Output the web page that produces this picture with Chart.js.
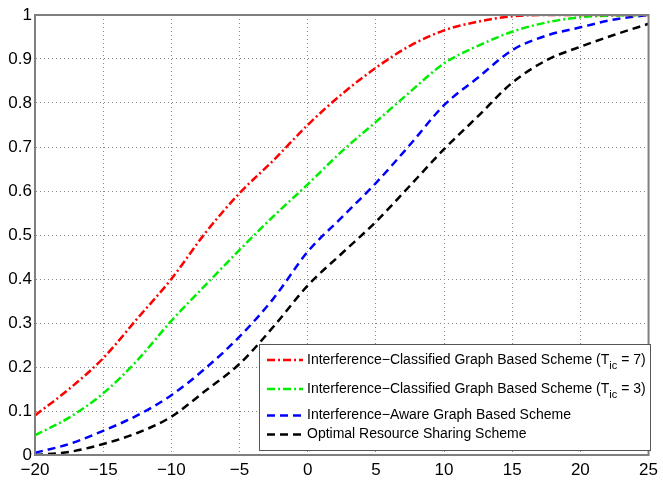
<!DOCTYPE html>
<html>
<head>
<meta charset="utf-8">
<script src="https://cdn.jsdelivr.net/npm/chart.js@4/dist/chart.umd.min.js"></script>
<style>
html,body{margin:0;padding:0;background:#fff;}
canvas{display:block;}
</style>
</head>
<body>
<canvas id="c" width="663" height="480"></canvas>
<script>
// ---- data ----
const snr = [-20,-17.5,-15,-12.5,-10,-7.5,-5,-2.5,0,2.5,5,7.5,10,12.5,15,17.5,20,22.5,25];
const icT7   = [0.09,0.15,0.22,0.31,0.40,0.505,0.595,0.67,0.75,0.82,0.88,0.93,0.965,0.985,0.997,1,1,1,1];
const icT3   = [0.045,0.085,0.14,0.215,0.305,0.386,0.466,0.543,0.615,0.69,0.757,0.825,0.89,0.93,0.962,0.983,0.995,0.999,1];
const iaGraph= [0.005,0.025,0.055,0.09,0.136,0.197,0.269,0.356,0.462,0.54,0.618,0.705,0.795,0.858,0.92,0.953,0.972,0.99,1];
const optimal= [0.0,0.007,0.025,0.05,0.087,0.146,0.207,0.292,0.385,0.458,0.53,0.612,0.695,0.77,0.846,0.897,0.928,0.955,0.98];
const seriesNames = [
  'Interference\u2212Classified Graph Based Scheme (T_{ic} = 7)',
  'Interference\u2212Classified Graph Based Scheme (T_{ic} = 3)',
  'Interference\u2212Aware Graph Based Scheme',
  'Optimal Resource Sharing Scheme'
];
const xTicks = [-20,-15,-10,-5,0,5,10,15,20,25];
const yTicks = [0,0.1,0.2,0.3,0.4,0.5,0.6,0.7,0.8,0.9,1];

const pts = ys => snr.map((x,i)=>({x:x,y:ys[i]}));
const FONT = '"Liberation Sans", Arial, Helvetica, sans-serif';

const styles = [
  {c:'#ff0000', d:[8,3,2,3]},
  {c:'#00ee00', d:[8,3,2,3]},
  {c:'#0000ff', d:[8,5]},
  {c:'#000000', d:[8,5]}
];
const seriesData = [icT7, icT3, iaGraph, optimal];

const frameAndLegend = {
  id:'frameAndLegend',
  afterDatasetsDraw(chart){
    const ctx = chart.ctx, a = chart.chartArea;
    ctx.save();
    ctx.strokeStyle = '#7f7f7f';
    ctx.lineWidth = 2;
    ctx.strokeRect(a.left, a.top, a.right-a.left, a.bottom-a.top);
    // legend box
    const bx = 259, by = 344, bw = 391, bh = 106;
    ctx.fillStyle = '#fff';
    ctx.fillRect(bx, by, bw, bh);
    ctx.strokeStyle = '#555';
    ctx.lineWidth = 1;
    ctx.strokeRect(bx+0.5, by+0.5, bw, bh);
    const rowY = [360, 389, 415.5, 434.5];
    chart.data.datasets.forEach((ds, i) => {
      const y = rowY[i];
      ctx.beginPath();
      ctx.setLineDash(ds.borderDash);
      ctx.strokeStyle = ds.borderColor;
      ctx.lineWidth = 2.5;
      ctx.moveTo(267, y); ctx.lineTo(303, y);
      ctx.stroke();
      ctx.setLineDash([]);
      ctx.fillStyle = '#000';
      ctx.textBaseline = 'middle';
      ctx.textAlign = 'left';
      let x = 307;
      const parts = ds.label.split(/(_\{[^}]*\})/);
      parts.forEach(p => {
        if (!p) return;
        if (p.startsWith('_{')) {
          const s = p.slice(2, -1);
          ctx.font = '11px ' + FONT;
          ctx.fillText(s, x, y + 6);
          x += ctx.measureText(s).width;
        } else {
          ctx.font = '14px ' + FONT;
          ctx.fillText(p, x, y);
          x += ctx.measureText(p).width;
        }
      });
    });
    ctx.restore();
  }
};

new Chart(document.getElementById('c'), {
  type: 'line',
  data: {
    datasets: seriesData.map((ys, i) => ({
      label: seriesNames[i],
      data: pts(ys),
      borderColor: styles[i].c,
      borderDash: styles[i].d,
      borderWidth: 2.5,
      pointRadius: 0,
      fill: false,
      cubicInterpolationMode: 'monotone'
    }))
  },
  options: {
    responsive: false,
    animation: false,
    layout: {padding: {top: 15, right: 8, left: 0, bottom: 0}},
    plugins: {legend: {display: false}, tooltip: {enabled: false}},
    scales: {
      x: {
        type: 'linear', min: -20, max: 25,
        afterBuildTicks: s => { s.ticks = xTicks.map(v => ({value: v})); },
        afterFit: s => { s.height = 25; },
        grid: {color: '#888', lineWidth: 1, drawTicks: false},
        border: {display: true, color: '#7f7f7f', width: 2, dash: [1,3]},
        ticks: {
          color: '#000', padding: 5, maxRotation: 0,
          font: {family: FONT, size: 17},
          callback: v => String(v).replace('-', '\u2212')
        }
      },
      y: {
        min: 0, max: 1,
        afterBuildTicks: s => { s.ticks = yTicks.map(v => ({value: v})); },
        afterFit: s => { s.width = 35; },
        grid: {color: '#888', lineWidth: 1, drawTicks: false},
        border: {display: true, color: '#7f7f7f', width: 2, dash: [1,3]},
        ticks: {
          color: '#000', padding: 3,
          font: {family: FONT, size: 17},
          callback: v => String(Math.round(v*10)/10)
        }
      }
    }
  },
  plugins: [frameAndLegend]
});
</script>
</body>
</html>
